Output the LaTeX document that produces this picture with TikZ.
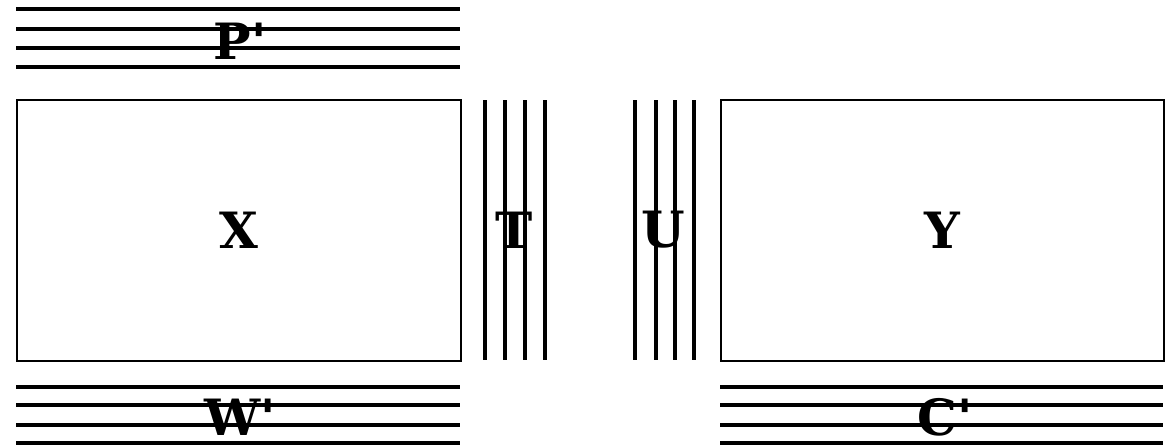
\documentclass[tikz,border=0pt]{standalone}
\usepackage{fontspec}
\newfontfamily\labfont{DejaVu Serif}
\tikzset{
  lab/.style={font=\labfont\bfseries\fontsize{50}{50}\selectfont, inner sep=0pt, anchor=center},
  bar/.style={line width=3.5pt},
  boxst/.style={draw, line width=2.2pt, inner sep=0pt, anchor=north west}
}
\begin{document}
\begin{tikzpicture}[x=1pt,y=-1pt]
\useasboundingbox (0,0) rectangle (1167,447);
% top lines P'
\foreach \yy in {9,29,48,67} \draw[bar] (16,\yy) -- (460,\yy);
\node[lab] (P) at (240,41) {P'};
% boxes
\node[boxst, minimum width=444pt, minimum height=261pt] (X) at (16,99) {};
\node[lab] at (X.center) {X};
\node[boxst, minimum width=443pt, minimum height=261pt] (Y) at (720,99) {};
\node[lab] at (Y.center) {Y};
% T lines
\foreach \xx in {485,505,525,545} \draw[bar] (\xx,100) -- (\xx,360);
\node[lab] (T) at (514,230) {T};
% U lines
\foreach \xx in {635,656,675,694} \draw[bar] (\xx,100) -- (\xx,360);
\node[lab] (U) at (663,230) {U};
% bottom lines
\foreach \yy in {387,405,425,443} {
  \draw[bar] (16,\yy) -- (460,\yy);
  \draw[bar] (720,\yy) -- (1163,\yy);
}
\node[lab] (W) at (240,417) {W'};
\node[lab] (C) at (945,417) {C'};
\end{tikzpicture}
\end{document}
